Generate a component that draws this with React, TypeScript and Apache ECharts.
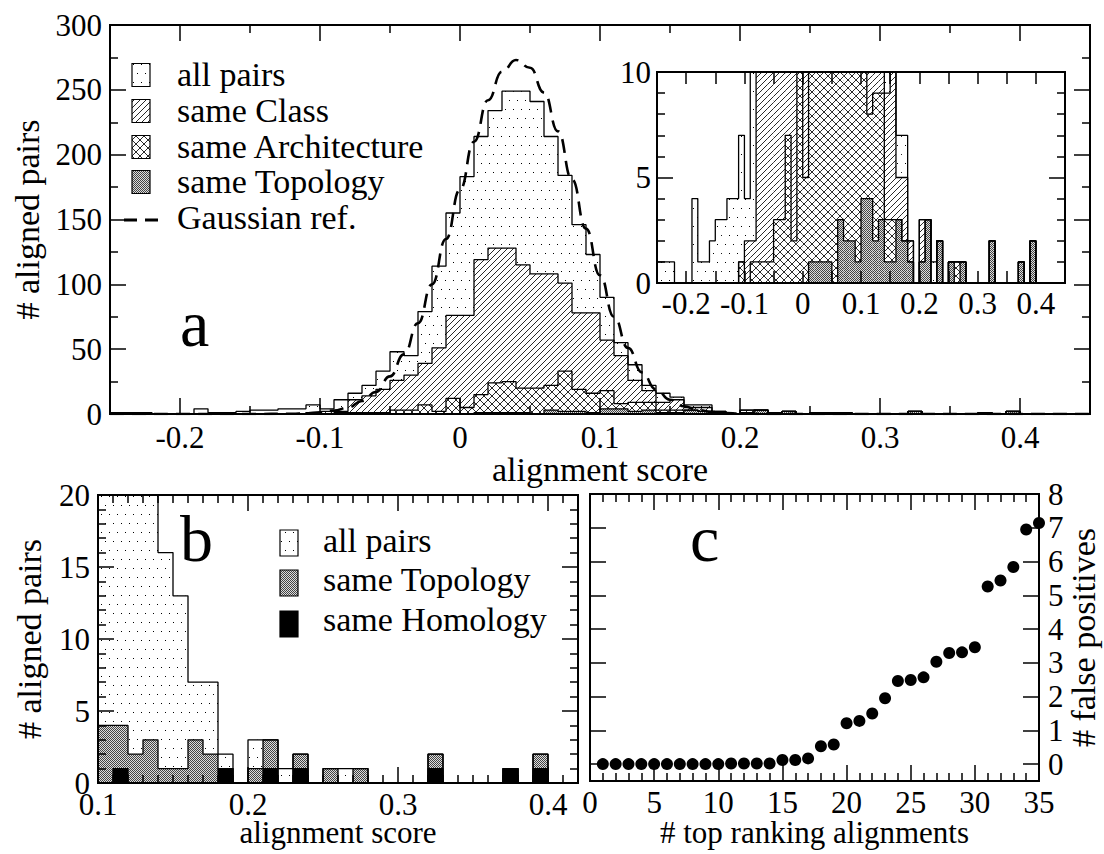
import React, { useEffect, useRef } from 'react';
import * as echarts from 'echarts';

const FONT = 'Liberation Serif, Times New Roman, serif';

// ---------------- Panel a (and inset): histogram bins of width 0.01 starting at -0.25 ----------------
const binStartA = -0.25;
const binWidth = 0.01;
const allPairs = [
  1, 1, 1, 0, 0, 0, 4, 1, 1, 2,
  3, 3, 4, 4, 7, 4, 11, 16, 22, 33,
  48, 45, 79, 114, 155, 183, 214, 234, 249, 249,
  241, 214, 184, 146, 123, 90, 55, 38, 22, 16,
  13, 7, 7, 2, 0, 3, 3, 1, 2, 0,
  1, 1, 1, 0, 0, 0, 0, 2, 0, 0,
  0, 0, 1, 0, 2, 0, 0, 0, 0, 0,
];
const sameClass = [
  0, 0, 0, 0, 0, 0, 0, 0, 0, 0,
  0, 0, 0, 0, 1, 2, 2, 11, 14, 19,
  26, 30, 39, 51, 76, 76, 119, 128, 128, 115,
  108, 108, 101, 78, 78, 57, 45, 26, 18, 9,
  11, 5, 5, 2, 0, 3, 3, 0, 2, 0,
  1, 1, 1, 0, 0, 0, 0, 2, 0, 0,
  0, 0, 1, 0, 2, 0, 0, 0, 0, 0,
];
const sameArchitecture = [
  0, 0, 0, 0, 0, 0, 0, 0, 0, 0,
  0, 0, 0, 0, 1, 0, 1, 1, 1, 1,
  3, 3, 7, 2, 12, 5, 15, 24, 25, 20,
  20, 22, 33, 19, 16, 18, 8, 9, 9, 3,
  3, 3, 2, 1, 0, 1, 3, 0, 2, 0,
  1, 1, 1, 0, 0, 0, 0, 2, 0, 0,
  0, 0, 1, 0, 2, 0, 0, 0, 0, 0,
];
const sameTopology = [
  0, 0, 0, 0, 0, 0, 0, 0, 0, 0,
  0, 0, 0, 0, 0, 0, 0, 0, 0, 0,
  0, 0, 0, 0, 0, 0, 1, 1, 1, 1,
  0, 3, 2, 2, 1, 4, 4, 2, 3, 1,
  1, 3, 2, 1, 0, 1, 3, 0, 2, 0,
  1, 0, 1, 0, 0, 0, 0, 2, 0, 0,
  0, 0, 1, 0, 2, 0, 0, 0, 0, 0,
];
// Gaussian reference curve
const gaussX = [-0.25, -0.2, -0.15, -0.12, -0.11, -0.1, -0.09, -0.08, -0.07, -0.06, -0.05, -0.04, -0.03, -0.02, -0.01,
  0, 0.01, 0.02, 0.03, 0.04, 0.05, 0.06, 0.07, 0.08, 0.09, 0.1, 0.11, 0.12, 0.13, 0.14, 0.15, 0.16, 0.17, 0.18,
  0.19, 0.2, 0.22, 0.3, 0.45];
const gaussY = [0, 0, 0, 0.2, 0.6, 1.3, 2.6, 5, 10, 17, 29, 46, 70, 100, 135,
  173, 210, 242, 264, 273, 267, 248, 218, 181, 143, 107, 75, 51, 32, 19, 11, 6, 3, 1.5,
  0.7, 0.3, 0, 0, 0];

// ---------------- Panel b: bins of width 0.01 starting at 0.10 ----------------
const binStartB = 0.1;
const bAllPairs = [90, 55, 38, 22, 16, 13, 7, 7, 2, 0, 3, 3, 1, 2, 0, 1, 1, 1, 0, 0, 0, 0, 2, 0, 0, 0, 0, 1, 0, 2, 0, 0];
const bSameTopology = [4, 4, 2, 3, 1, 1, 3, 2, 1, 0, 1, 3, 0, 2, 0, 1, 0, 1, 0, 0, 0, 0, 2, 0, 0, 0, 0, 1, 0, 2, 0, 0];
const bSameHomology = [0, 1, 0, 0, 0, 0, 0, 0, 1, 0, 0, 1, 0, 1, 0, 0, 0, 0, 0, 0, 0, 0, 1, 0, 0, 0, 0, 1, 0, 1, 0, 0];

// ---------------- Panel c ----------------
const rankX = [1, 2, 3, 4, 5, 6, 7, 8, 9, 10, 11, 12, 13, 14, 15, 16, 17, 18, 19, 20, 21, 22, 23, 24, 25, 26, 27, 28, 29, 30, 31, 32, 33, 34, 35];
const falsePositives = [0, 0, 0, 0, 0, 0, 0, 0, 0, 0, 0.02, 0.02, 0.02, 0.02, 0.12, 0.12, 0.17, 0.53, 0.58, 1.21,
  1.28, 1.5, 1.95, 2.46, 2.49, 2.57, 3.03, 3.29, 3.31, 3.46, 5.26, 5.44, 5.84, 6.95, 7.14];

// ---------------- Tick values ----------------
const aXMajor = [-0.2, -0.1, 0, 0.1, 0.2, 0.3, 0.4];
const aXMinor = [-0.15, -0.05, 0.05, 0.15, 0.25, 0.35];
const aYMajor = [0, 50, 100, 150, 200, 250, 300];
const aYMinor = [25, 75, 125, 175, 225, 275];
const insetXTicks = [-0.2, -0.15, -0.1, -0.05, 0, 0.05, 0.1, 0.15, 0.2, 0.25, 0.3, 0.35, 0.4];
const insetXLabels = [-0.2, -0.1, 0, 0.1, 0.2, 0.3, 0.4];
const insetYMajor = [0, 5, 10];
const insetYMinor = [1, 2, 3, 4, 6, 7, 8, 9];
const bXMajor = [0.1, 0.2, 0.3, 0.4];
const bXMinor = [0.11, 0.12, 0.13, 0.14, 0.15, 0.16, 0.17, 0.18, 0.19, 0.21, 0.22, 0.23, 0.24, 0.25, 0.26, 0.27, 0.28, 0.29,
  0.31, 0.32, 0.33, 0.34, 0.35, 0.36, 0.37, 0.38, 0.39, 0.41];
const bYMajor = [0, 5, 10, 15, 20];
const bYMinor = [1, 2, 3, 4, 6, 7, 8, 9, 11, 12, 13, 14, 16, 17, 18, 19];
const cXMajor = [0, 5, 10, 15, 20, 25, 30, 35];
const cXMinor = [1, 2, 3, 4, 6, 7, 8, 9, 11, 12, 13, 14, 16, 17, 18, 19, 21, 22, 23, 24, 26, 27, 28, 29, 31, 32, 33, 34];
const cYMajor = [0, 1, 2, 3, 4, 5, 6, 7, 8];

function makePattern(kind: string) {
  const dims: Record<string, number[]> = { dots: [8, 18], hatch: [6, 6], cross: [8, 8], gray: [2, 2] };
  const [w, h] = dims[kind];
  const cv = document.createElement('canvas');
  cv.width = w;
  cv.height = h;
  const ctx = cv.getContext('2d')!;
  ctx.fillStyle = '#fff';
  ctx.fillRect(0, 0, w, h);
  ctx.fillStyle = '#000';
  ctx.strokeStyle = '#111';
  if (kind === 'dots') {
    ctx.fillRect(1, 1, 1, 1);
    ctx.fillRect(5, 10, 1, 1);
  }
  if (kind === 'gray') {
    ctx.fillStyle = '#444';
    ctx.fillRect(0, 0, 1, 1);
    ctx.fillRect(1, 1, 1, 1);
    ctx.fillStyle = '#dcdcdc';
    ctx.fillRect(1, 0, 1, 1);
    ctx.fillRect(0, 1, 1, 1);
  }
  if (kind === 'hatch' || kind === 'cross') {
    ctx.lineWidth = 0.9;
    for (const x0 of [-w, 0, w]) {
      ctx.beginPath();
      ctx.moveTo(x0, h);
      ctx.lineTo(x0 + h, 0);
      ctx.stroke();
    }
  }
  if (kind === 'cross') {
    for (const x0 of [-w, 0, w]) {
      ctx.beginPath();
      ctx.moveTo(x0, 0);
      ctx.lineTo(x0 + h, h);
      ctx.stroke();
    }
  }
  return { image: cv.toDataURL(), repeat: 'repeat', imageWidth: w, imageHeight: h };
}

function stepPoints(start: number, width: number, counts: number[]) {
  const pts: number[][] = [[start, 0]];
  counts.forEach((c, i) => pts.push([+(start + i * width).toFixed(3), c]));
  pts.push([+(start + counts.length * width).toFixed(3), 0]);
  return pts;
}

const fmt = (v: number) => String(+(+v).toFixed(2));
const nameStyle = { fontFamily: FONT, fontSize: 34, color: '#000' };

function vAxis(gridIndex: number, position: string, min: number, max: number, ticks: number[], len: number,
  labels?: number[] | null, more?: any) {
  return {
    type: 'value', gridIndex, position, min, max, z: 10,
    nameMoveOverlap: false,
    axisLine: { show: true, onZero: false, lineStyle: { color: '#000', width: 2 } },
    axisTick: { show: true, inside: true, length: len, customValues: ticks, lineStyle: { color: '#000', width: 1.5 } },
    axisLabel: labels
      ? { show: true, customValues: labels, formatter: fmt, color: '#000', fontFamily: FONT, fontSize: 31, margin: 8 }
      : { show: false },
    splitLine: { show: false },
    ...(more || {}),
  };
}

export default function App() {
  const ref = useRef<HTMLDivElement>(null);

  useEffect(() => {
    if (!ref.current) return;
    const chart = echarts.init(ref.current, null, { renderer: 'svg' });

    const pDots = makePattern('dots');
    const pHatch = makePattern('hatch');
    const pCross = makePattern('cross');
    const pGray = makePattern('gray');

    const catsA = allPairs.map((_, i) => (binStartA + i * binWidth).toFixed(2));
    const catsB = bAllPairs.map((_, i) => (binStartB + i * binWidth).toFixed(2));

    const xAxis: any[] = [];
    const yAxis: any[] = [];
    const addX = (a: any) => { xAxis.push(a); return xAxis.length - 1; };
    const addY = (a: any) => { yAxis.push(a); return yAxis.length - 1; };

    // Panel a (grid 0)
    const catA = addX({ type: 'category', gridIndex: 0, position: 'bottom', data: catsA, show: false, boundaryGap: true });
    const xA = addX(vAxis(0, 'bottom', -0.25, 0.45, aXMajor, 16, aXMajor, {
      name: 'alignment score', nameLocation: 'middle', nameGap: 38, nameTextStyle: nameStyle,
    }));
    addX(vAxis(0, 'bottom', -0.25, 0.45, aXMinor, 8));
    addX(vAxis(0, 'top', -0.25, 0.45, aXMajor, 16));
    addX(vAxis(0, 'top', -0.25, 0.45, aXMinor, 8));
    const yA = addY(vAxis(0, 'left', 0, 300, aYMajor, 16, aYMajor, {
      name: '# aligned pairs', nameLocation: 'middle', nameRotate: 90, nameGap: 66, nameTextStyle: nameStyle,
    }));
    addY(vAxis(0, 'left', 0, 300, aYMinor, 8));
    addY(vAxis(0, 'right', 0, 300, aYMajor, 16));
    addY(vAxis(0, 'right', 0, 300, aYMinor, 8));

    // Inset (grid 1)
    const catI = addX({ type: 'category', gridIndex: 1, position: 'bottom', data: catsA, show: false, boundaryGap: true });
    const xI = addX(vAxis(1, 'bottom', -0.25, 0.45, insetXTicks, 12, insetXLabels, {}));
    xAxis[xI].axisLabel.margin = 5;
    addX(vAxis(1, 'top', -0.25, 0.45, insetXTicks, 12));
    const yI = addY(vAxis(1, 'left', 0, 10, insetYMajor, 16, insetYMajor));
    yAxis[yI].axisLabel.margin = 6;
    addY(vAxis(1, 'left', 0, 10, insetYMinor, 8));
    addY(vAxis(1, 'right', 0, 10, insetYMajor, 16));
    addY(vAxis(1, 'right', 0, 10, insetYMinor, 8));

    // Panel b (grid 2)
    const catB = addX({ type: 'category', gridIndex: 2, position: 'bottom', data: catsB, show: false, boundaryGap: true });
    const xB = addX(vAxis(2, 'bottom', 0.1, 0.42, bXMajor, 16, bXMajor, {
      name: 'alignment score', nameLocation: 'middle', nameGap: 34, nameTextStyle: { ...nameStyle, fontSize: 31 },
    }));
    xAxis[xB].axisLabel.margin = 6;
    addX(vAxis(2, 'bottom', 0.1, 0.42, bXMinor, 8));
    addX(vAxis(2, 'top', 0.1, 0.42, bXMajor, 16));
    addX(vAxis(2, 'top', 0.1, 0.42, bXMinor, 8));
    const yB = addY(vAxis(2, 'left', 0, 20, bYMajor, 16, bYMajor, {
      name: '# aligned pairs', nameLocation: 'middle', nameRotate: 90, nameGap: 52, nameTextStyle: nameStyle,
    }));
    addY(vAxis(2, 'left', 0, 20, bYMinor, 8));
    addY(vAxis(2, 'right', 0, 20, bYMajor, 16));
    addY(vAxis(2, 'right', 0, 20, bYMinor, 8));

    // Panel c (grid 3)
    const xC = addX(vAxis(3, 'bottom', 0, 35, cXMajor, 16, cXMajor, {
      name: '# top ranking alignments', nameLocation: 'middle', nameGap: 36, nameTextStyle: { ...nameStyle, fontSize: 31 },
    }));
    xAxis[xC].axisLabel.margin = 6;
    addX(vAxis(3, 'bottom', 0, 35, cXMinor, 8));
    addX(vAxis(3, 'top', 0, 35, cXMajor, 16));
    addX(vAxis(3, 'top', 0, 35, cXMinor, 8));
    addY(vAxis(3, 'left', -0.5, 8, cYMajor, 16));
    const yC = addY(vAxis(3, 'right', -0.5, 8, cYMajor, 16, cYMajor, {
      name: '# false positives', nameLocation: 'middle', nameRotate: 90, nameGap: 27, nameTextStyle: nameStyle,
    }));
    yAxis[yC].axisLabel.margin = 9;

    const bars = (xi: number, yi: number, data: number[], fill: any) => ({
      type: 'bar', xAxisIndex: xi, yAxisIndex: yi, data, barWidth: '100%', barGap: '-100%', barCategoryGap: '0%',
      itemStyle: { color: fill, opacity: 1 }, silent: true, z: 2,
    });
    const outline = (xi: number, yi: number, start: number, counts: number[]) => ({
      type: 'line', xAxisIndex: xi, yAxisIndex: yi, data: stepPoints(start, binWidth, counts), step: 'end',
      symbol: 'none', showSymbol: false, lineStyle: { color: '#000', width: 1.3, opacity: 1 }, silent: true, z: 3, clip: true,
    });

    const series: any[] = [
      // main histogram
      bars(catA, yA, allPairs, pDots),
      bars(catA, yA, sameClass, pHatch),
      bars(catA, yA, sameArchitecture, pCross),
      bars(catA, yA, sameTopology, pGray),
      outline(xA, yA, binStartA, allPairs),
      outline(xA, yA, binStartA, sameClass),
      outline(xA, yA, binStartA, sameArchitecture),
      outline(xA, yA, binStartA, sameTopology),
      {
        type: 'line', xAxisIndex: xA, yAxisIndex: yA, data: gaussX.map((x, i) => [x, gaussY[i]]),
        smooth: true, smoothMonotone: 'x', symbol: 'none', showSymbol: false, silent: true, z: 4,
        lineStyle: { color: '#000', width: 2.6, type: [14, 8], opacity: 1 },
      },
      // inset
      bars(catI, yI, allPairs, pDots),
      bars(catI, yI, sameClass, pHatch),
      bars(catI, yI, sameArchitecture, pCross),
      bars(catI, yI, sameTopology, pGray),
      outline(xI, yI, binStartA, allPairs),
      outline(xI, yI, binStartA, sameClass),
      outline(xI, yI, binStartA, sameArchitecture),
      outline(xI, yI, binStartA, sameTopology),
      // panel b
      bars(catB, yB, bAllPairs, pDots),
      bars(catB, yB, bSameTopology, pGray),
      bars(catB, yB, bSameHomology, '#000'),
      outline(xB, yB, binStartB, bAllPairs),
      outline(xB, yB, binStartB, bSameTopology),
      outline(xB, yB, binStartB, bSameHomology),
      // panel c
      {
        type: 'scatter', xAxisIndex: xC, yAxisIndex: yC, data: rankX.map((x, i) => [x, falsePositives[i]]),
        symbol: 'circle', symbolSize: 12, itemStyle: { color: '#000', opacity: 1 }, silent: true, z: 5,
      },
    ];

    const txt = (x: number, y: number, text: string, size: number) => ({
      type: 'text', x, y, z: 100,
      style: { text, fontSize: size, fontFamily: FONT, fill: '#000', align: 'left', verticalAlign: 'middle' },
    });
    const icon = (x: number, cy: number, h: number, fill: any) => ({
      type: 'rect', z: 100, shape: { x, y: cy - h / 2, width: 18, height: h },
      style: { fill, stroke: '#000', lineWidth: 1.2 },
    });

    const graphic: any[] = [
      // legend a
      icon(132, 75, 23, pDots), txt(177, 74, 'all pairs', 34),
      icon(132, 111, 23, pHatch), txt(177, 110, 'same Class', 34),
      icon(132, 147, 23, pCross), txt(177, 146, 'same Architecture', 34),
      icon(132, 182, 23, pGray), txt(177, 181, 'same Topology', 34),
      {
        type: 'line', z: 100, shape: { x1: 124, y1: 220, x2: 160, y2: 220 },
        style: { stroke: '#000', lineWidth: 3, lineDash: [13, 8] },
      },
      txt(177, 217, 'Gaussian ref.', 34),
      txt(180, 323, 'a', 66),
      // legend b
      icon(280, 543, 26, pDots), txt(323, 540, 'all pairs', 34),
      icon(280, 583, 26, pGray), txt(323, 579, 'same Topology', 34),
      icon(280, 624, 26, '#000'), txt(323, 619, 'same Homology', 34),
      txt(180, 538, 'b', 66),
      txt(690, 538, 'c', 66),
    ];

    chart.setOption({
      animation: false,
      backgroundColor: '#fff',
      grid: [
        { left: 110, top: 25, width: 980, height: 389, show: false, outerBoundsMode: 'none' },
        { left: 657, top: 72, width: 408, height: 211, show: true, backgroundColor: '#fff', borderWidth: 0, outerBoundsMode: 'none' },
        { left: 98, top: 495, width: 480, height: 288, show: false, outerBoundsMode: 'none' },
        { left: 590, top: 494, width: 449, height: 287, show: false, outerBoundsMode: 'none' },
      ],
      xAxis,
      yAxis,
      series,
      graphic: { elements: graphic },
    });

    return () => chart.dispose();
  }, []);

  return (
    <div
      ref={ref}
      style={{ position: 'absolute', left: 0, top: 0, width: 1104, height: 854, background: '#fff' }}
    />
  );
}
